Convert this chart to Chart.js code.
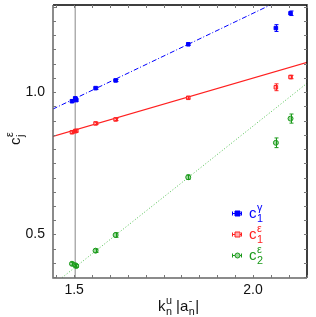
<!DOCTYPE html>
<html>
<head>
<meta charset="utf-8">
<script src="https://cdn.jsdelivr.net/npm/chart.js@4/dist/chart.umd.min.js"></script>
<style>
  html, body { margin: 0; padding: 0; background: #fff; }
  canvas { display: block; }
</style>
</head>
<body>
<canvas id="chart" width="316" height="317"></canvas>
<script>
// data
const xs = [1.494, 1.503, 1.506, 1.560, 1.616, 1.819, 2.064, 2.105];
const c1gamma = [0.968, 0.978, 0.972, 1.014, 1.041, 1.168, 1.225, 1.277];
const c1gammaErr = [0.004, 0.004, 0.004, 0.004, 0.004, 0.004, 0.012, 0.008];
const c1eps = [0.859, 0.863, 0.864, 0.890, 0.904, 0.980, 1.017, 1.053];
const c1epsErr = [0.004, 0.004, 0.004, 0.004, 0.004, 0.004, 0.012, 0.006];
const c2eps = [0.397, 0.392, 0.389, 0.443, 0.498, 0.701, 0.822, 0.907];
const c2epsErr = [0.005, 0.005, 0.005, 0.006, 0.008, 0.008, 0.017, 0.016];

// fitted lines, given by their end points
const fitX = [1.44, 2.16];
const fitGamma = [0.940, 1.373];
const fitEps1 = [0.844, 1.108];
const fitEps2 = [0.322, 1.040];

const refLineX = 1.503;
const xTicks = [1.45, 1.5, 1.55, 1.6, 1.65, 1.7, 1.75, 1.8, 1.85, 1.9, 1.95, 2.0, 2.05, 2.1, 2.15];
const xTickLabels = { 1.5: '1.5', 2.0: '2.0' };
const yTicks = [0.35, 0.4, 0.45, 0.5, 0.55, 0.6, 0.65, 0.7, 0.75, 0.8, 0.85, 0.9, 0.95, 1.0, 1.05, 1.1, 1.15, 1.2, 1.25, 1.3];
const yTickLabels = { 0.5: '0.5', 1.0: '1.0' };

const BLUE = '#0000ff', RED = '#ff2020', GREEN = '#1a9a1a';
const FONT = '"Liberation Sans", Arial, sans-serif';

function pts(xv, yv) { return xv.map((x, i) => ({ x: x, y: yv[i] })); }
function labelFor(map, v) {
    for (const k in map) if (Math.abs(parseFloat(k) - v) < 1e-6) return map[k];
    return '';
}
function noPad(sc) {
    sc.paddingTop = 0; sc.paddingBottom = 0; sc.paddingLeft = 0; sc.paddingRight = 0;
}

const series = [
    { data: c1gamma, err: c1gammaErr, color: BLUE, style: 'rect', fill: BLUE, sub: '1', sup: 'γ' },
    { data: c1eps, err: c1epsErr, color: RED, style: 'rect', fill: '#ffb0b0', sub: '1', sup: 'ε' },
    { data: c2eps, err: c2epsErr, color: GREEN, style: 'circle', fill: '#a0d8a0', sub: '2', sup: 'ε' }
];

function drawScript(ctx, x, y, base, sub, sup, size) {
    ctx.font = size + 'px ' + FONT;
    ctx.fillText(base, x, y);
    const w = ctx.measureText(base).width;
    const s = size * 0.72;
    ctx.font = s + 'px ' + FONT;
    ctx.fillText(sub, x + w + 0.5, y + size * 0.28);
    ctx.fillText(sup, x + w + 0.5, y - size * 0.45);
    return x + w + 0.5 + Math.max(ctx.measureText(sub).width, ctx.measureText(sup).width);
}

const extras = {
    id: 'extras',
    afterDatasetsDraw(chart) {
        const ctx = chart.ctx, xs_ = chart.scales.x, ys = chart.scales.y;
        ctx.save();
        ctx.lineWidth = 1;
        series.forEach(s => {
            ctx.strokeStyle = s.color;
            xs.forEach((xv, i) => {
                const px = Math.round(xs_.getPixelForValue(xv)) + 0.5;
                const y1 = ys.getPixelForValue(s.data[i] - s.err[i]);
                const y2 = ys.getPixelForValue(s.data[i] + s.err[i]);
                ctx.beginPath();
                ctx.moveTo(px, y1); ctx.lineTo(px, y2);
                ctx.moveTo(px - 2, y1); ctx.lineTo(px + 2, y1);
                ctx.moveTo(px - 2, y2); ctx.lineTo(px + 2, y2);
                ctx.stroke();
            });
        });
        ctx.restore();
    },
    afterDraw(chart) {
        const ctx = chart.ctx, a = chart.chartArea;
        const xs_ = chart.scales.x, ys = chart.scales.y;
        ctx.save();
        // frame
        ctx.lineWidth = 1.5;
        ctx.strokeStyle = '#000';
        ctx.beginPath();
        ctx.moveTo(a.left, a.top); ctx.lineTo(a.right, a.top); ctx.lineTo(a.right, a.bottom);
        ctx.stroke();
        ctx.strokeStyle = '#666';
        ctx.beginPath();
        ctx.moveTo(a.right, a.bottom); ctx.lineTo(a.left, a.bottom); ctx.lineTo(a.left, a.top);
        ctx.stroke();
        // inward ticks
        ctx.lineWidth = 1;
        ctx.strokeStyle = '#777';
        ctx.beginPath();
        xTicks.forEach(v => {
            const px = Math.round(xs_.getPixelForValue(v)) + 0.5;
            ctx.moveTo(px, a.bottom); ctx.lineTo(px, a.bottom - 3);
            ctx.moveTo(px, a.top); ctx.lineTo(px, a.top + 3);
        });
        yTicks.forEach(v => {
            const py = Math.round(ys.getPixelForValue(v)) + 0.5;
            ctx.moveTo(a.left, py); ctx.lineTo(a.left + 3, py);
            ctx.moveTo(a.right, py); ctx.lineTo(a.right - 3, py);
        });
        ctx.stroke();

        // axis titles
        ctx.fillStyle = '#111';
        ctx.textBaseline = 'alphabetic';
        let x = drawScript(ctx, 158, 311, 'k', 'n', 'u', 15);
        x = drawScript(ctx, x + 4, 311, '|a', 'n', '-', 15);
        ctx.font = '15px ' + FONT;
        ctx.fillText('|', x + 0.5, 311);

        ctx.save();
        ctx.translate(20, 145);
        ctx.rotate(-Math.PI / 2);
        drawScript(ctx, 0, 0, 'c', 'j', 'ε', 15);
        ctx.restore();

        // legend
        const rows = [213, 234, 255];
        series.forEach((s, i) => {
            const cy = rows[i];
            ctx.strokeStyle = s.color;
            ctx.lineWidth = 1;
            ctx.beginPath();
            ctx.moveTo(232, cy + 0.5); ctx.lineTo(242, cy + 0.5);
            ctx.moveTo(232.5, cy - 1.5); ctx.lineTo(232.5, cy + 2.5);
            ctx.moveTo(241.5, cy - 1.5); ctx.lineTo(241.5, cy + 2.5);
            ctx.stroke();
            ctx.fillStyle = s.fill;
            ctx.beginPath();
            if (s.style === 'rect') ctx.rect(235, cy - 2, 5, 5);
            else ctx.arc(237.5, cy + 0.5, 2.5, 0, Math.PI * 2);
            ctx.fill();
            ctx.stroke();
            ctx.fillStyle = s.color;
            drawScript(ctx, 249, cy + 5, 'c', s.sub, s.sup, 15);
        });
        ctx.restore();
    }
};

new Chart(document.getElementById('chart'), {
    type: 'scatter',
    data: {
        datasets: [
            ...series.map((s, i) => ({
                label: 'c' + s.sub + s.sup,
                data: pts(xs, s.data),
                pointStyle: s.style,
                pointRadius: 2.5,
                borderColor: s.color,
                backgroundColor: s.fill,
                borderWidth: 1,
                order: 1
            })),
            {
                type: 'line', data: pts(fitX, fitGamma), borderColor: BLUE, borderWidth: 1,
                borderDash: [5, 2, 1, 2], pointRadius: 0, order: 5
            },
            {
                type: 'line', data: pts(fitX, fitEps1), borderColor: RED, borderWidth: 1.2,
                pointRadius: 0, order: 5
            },
            {
                type: 'line', data: pts(fitX, fitEps2), borderColor: '#50c050', borderWidth: 1,
                borderDash: [1, 2], pointRadius: 0, order: 5
            },
            {
                type: 'line', data: [{ x: refLineX, y: 0.3 }, { x: refLineX, y: 1.4 }],
                borderColor: '#888', borderWidth: 1, pointRadius: 0, order: 6
            }
        ]
    },
    options: {
        responsive: false,
        animation: false,
        devicePixelRatio: 1,
        layout: { padding: { top: 3, right: 9, left: 0, bottom: 0 } },
        plugins: { legend: { display: false }, tooltip: { enabled: false } },
        scales: {
            x: {
                type: 'linear', min: 1.441, max: 2.151,
                border: { display: false },
                grid: { display: false, drawTicks: false },
                afterBuildTicks: sc => { sc.ticks = xTicks.map(v => ({ value: v })); },
                afterFit: sc => { sc.height = 39; noPad(sc); },
                ticks: {
                    autoSkip: false, maxRotation: 0, padding: 4, color: '#111',
                    font: { family: FONT, size: 14 },
                    callback: v => labelFor(xTickLabels, v)
                }
            },
            y: {
                type: 'linear', min: 0.347, max: 1.306,
                border: { display: false },
                grid: { display: false, drawTicks: false },
                afterBuildTicks: sc => { sc.ticks = yTicks.map(v => ({ value: v })); },
                afterFit: sc => { sc.width = 53; noPad(sc); },
                ticks: {
                    autoSkip: false, padding: 8, color: '#111',
                    font: { family: FONT, size: 14 },
                    callback: v => labelFor(yTickLabels, v)
                }
            }
        }
    },
    plugins: [extras]
});
</script>
</body>
</html>
